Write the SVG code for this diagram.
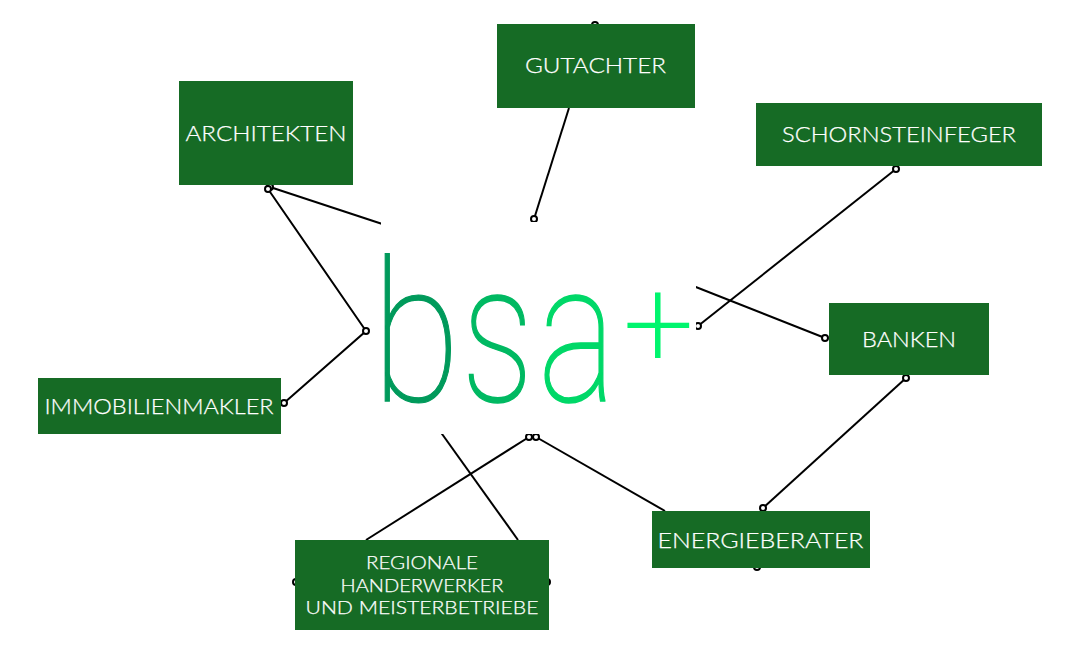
<svg xmlns="http://www.w3.org/2000/svg" width="1080" height="653" viewBox="0 0 1080 653">
<style>
.box{fill:#166b25}
.lbl{font-family:"Lato","Liberation Sans",sans-serif;font-weight:300;fill:#fff;stroke:#fff;stroke-width:.25;text-anchor:middle}
.c{fill:none;stroke:#000;stroke-width:2}
.d{fill:#fff;stroke:#000;stroke-width:2}
.logo{font-family:"Roboto","Lato",sans-serif;font-weight:100;text-anchor:middle}
</style>
<rect width="1080" height="653" fill="#fff"/>
<g id="connectors">
<path class="c" d="M569 108L534 219"/>
<path class="c" d="M270 187L440 243"/>
<path class="c" d="M268 189L366 331L284 403"/>
<path class="c" d="M896 169L698 326"/>
<path class="c" d="M825 338L640 265"/>
<path class="c" d="M906 378L763 508"/>
<path class="c" d="M536 437L665 511"/>
<path class="c" d="M529 437L366 540"/>
<path class="c" d="M422 406L518 540"/>
<circle class="d" cx="595" cy="25" r="3"/>
<circle class="d" cx="534" cy="219" r="3"/>
<circle class="d" cx="270" cy="187" r="3"/>
<circle class="d" cx="268" cy="189" r="3"/>
<circle class="d" cx="366" cy="331" r="3"/>
<circle class="d" cx="284" cy="403" r="3"/>
<circle class="d" cx="896" cy="169" r="3"/>
<circle class="d" cx="698" cy="326" r="3"/>
<circle class="d" cx="825" cy="338" r="3"/>
<circle class="d" cx="906" cy="378" r="3"/>
<circle class="d" cx="763" cy="508" r="3"/>
<circle class="d" cx="757" cy="567" r="3"/>
<circle class="d" cx="529" cy="437" r="3"/>
<circle class="d" cx="536" cy="437" r="3"/>
<circle class="d" cx="296" cy="582" r="3"/>
<circle class="d" cx="547" cy="582" r="3"/>
</g>
<g id="logo">
<rect x="381" y="222" width="315" height="212" fill="#fff"/>
<text class="logo" transform="translate(416 401) scale(.82 1)" font-size="197" fill="#009a5b" stroke="#009a5b" stroke-width="1.2">b</text>
<text class="logo" transform="translate(497.500 401) scale(.73 1)" font-size="197" fill="#00b962" stroke="#00b962" stroke-width="1.5">s</text>
<text class="logo" transform="translate(577 401) scale(.74 1)" font-size="197" fill="#00d868" stroke="#00d868" stroke-width="1.5">a</text>
<text class="logo" x="658.500" y="365.500" font-size="122" fill="#00f56e" stroke="#00f56e" stroke-width="2.2">+</text>
</g>
<g id="gutachter"><rect class="box" x="497" y="24" width="198" height="84"/><text class="lbl" x="595.500" y="72.500" font-size="22" textLength="141" lengthAdjust="spacingAndGlyphs">GUTACHTER</text></g>
<g id="architekten"><rect class="box" x="179" y="81" width="174" height="104"/><text class="lbl" x="266" y="140.500" font-size="22" textLength="161" lengthAdjust="spacingAndGlyphs">ARCHITEKTEN</text></g>
<g id="schornsteinfeger"><rect class="box" x="756" y="103" width="286" height="63"/><text class="lbl" x="899" y="142" font-size="21" textLength="234" lengthAdjust="spacingAndGlyphs">SCHORNSTEINFEGER</text></g>
<g id="banken"><rect class="box" x="829" y="303" width="160" height="72"/><text class="lbl" x="909" y="347" font-size="21" textLength="94" lengthAdjust="spacingAndGlyphs">BANKEN</text></g>
<g id="immobilienmakler"><rect class="box" x="38" y="378" width="243" height="56"/><text class="lbl" x="159" y="414" font-size="22" textLength="229" lengthAdjust="spacingAndGlyphs">IMMOBILIENMAKLER</text></g>
<g id="energieberater"><rect class="box" x="652" y="511" width="218" height="57"/><text class="lbl" x="760.500" y="548" font-size="22" textLength="206" lengthAdjust="spacingAndGlyphs">ENERGIEBERATER</text></g>
<g id="regionale"><rect class="box" x="295" y="540" width="254" height="90"/>
<text class="lbl" x="422" y="569" font-size="17.500" textLength="112" lengthAdjust="spacingAndGlyphs">REGIONALE</text>
<text class="lbl" x="422" y="591.500" font-size="17.500" textLength="163" lengthAdjust="spacingAndGlyphs">HANDERWERKER</text>
<text class="lbl" x="422" y="614" font-size="17.500" textLength="233" lengthAdjust="spacingAndGlyphs">UND MEISTERBETRIEBE</text></g>
</svg>
